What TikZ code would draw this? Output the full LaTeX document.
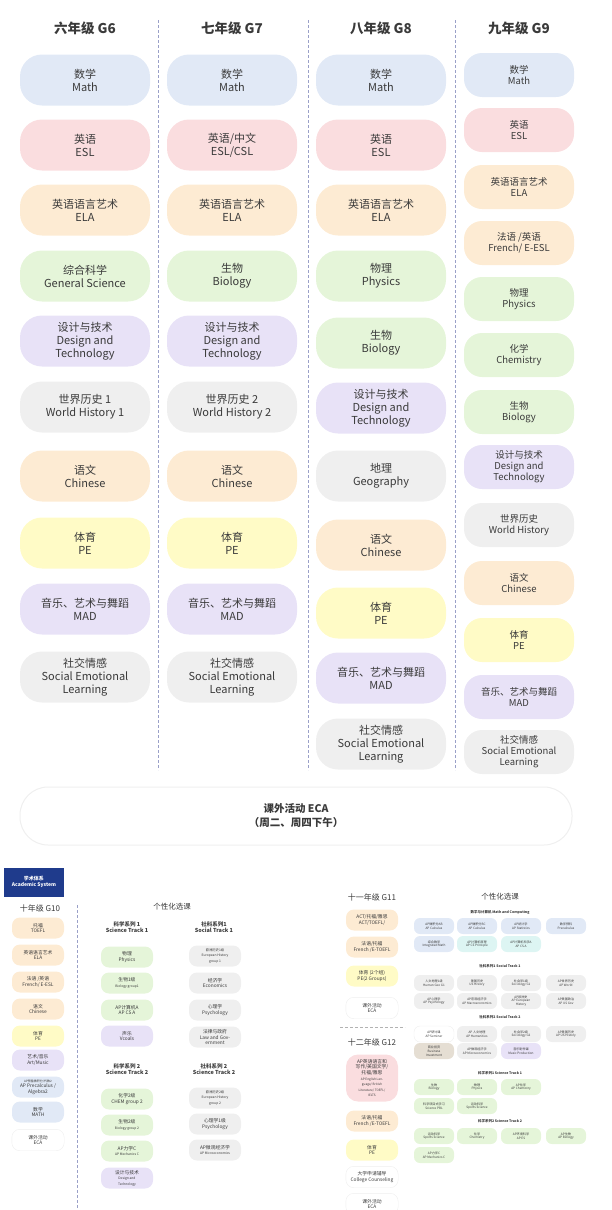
\documentclass[tikz,border=0pt]{standalone}
\usepackage{fontspec}
\setmainfont{Noto Sans CJK SC}
\definecolor{txt}{HTML}{3A3A3A}
\definecolor{cBlue}{HTML}{E1E9F6}
\definecolor{cPink}{HTML}{FADDDF}
\definecolor{cOrng}{HTML}{FDEBD3}
\definecolor{cGrn}{HTML}{E5F5D9}
\definecolor{cPurp}{HTML}{E8E2F7}
\definecolor{cGray}{HTML}{EFEFEF}
\definecolor{cYel}{HTML}{FFFBC6}
\definecolor{cTeal}{HTML}{DDF5F3}
\definecolor{cTan}{HTML}{E5DED3}
\definecolor{cNavy}{HTML}{1F3B8C}
\definecolor{cLine}{HTML}{9AA0C8}
\begin{document}
\begin{tikzpicture}[x=1pt,y=-1pt,
  top/.style={rounded corners=22pt,minimum width=130pt,minimum height=51pt,align=center,text=txt,inner sep=1pt,font=\fontsize{11}{13}\selectfont},
  topn/.style={top,minimum width=110pt,minimum height=44pt,rounded corners=18pt,font=\fontsize{9.5}{11}\selectfont},
  head/.style={text=txt,font=\fontsize{13.5}{16}\selectfont\bfseries},
  sm/.style={rounded corners=8pt,minimum width=52pt,minimum height=21pt,align=center,text=txt,inner sep=0.5pt,font=\fontsize{4.8}{5.6}\selectfont},
  xs/.style={rounded corners=6pt,minimum width=40pt,minimum height=16pt,align=center,text=txt,inner sep=0.3pt,font=\fontsize{3.1}{3.7}\selectfont},
  shead/.style={text=txt,align=center,font=\fontsize{5.5}{6.5}\selectfont\bfseries},
  ttl/.style={text=txt,font=\fontsize{3.5}{4}\selectfont\bfseries},
  sep/.style={cLine,densely dashed,line width=0.5pt}]
\useasboundingbox (0,0) rectangle (612,1210);

% grades 6 to 9
\node[head] (h6) at (85,28) {六年级 G6};
\node[head] (h7) at (232,28) {七年级 G7};
\node[head] (h8) at (381,28) {八年级 G8};
\node[head] (h9) at (519,28) {九年级 G9};

\foreach \y/\c/\t in {80/cBlue/{数学\\Math},145/cPink/{英语\\ESL},210/cOrng/{英语语言艺术\\ELA},
  276/cGrn/{综合科学\\General Science},341/cPurp/{设计与技术\\Design and\\Technology},
  407/cGray/{世界历史 1\\World History 1},476/cOrng/{语文\\Chinese},543/cYel/{体育\\PE},
  609/cPurp/{音乐、艺术与舞蹈\\MAD},677/cGray/{社交情感\\Social Emotional\\Learning}}
  \node[top,fill=\c] (g6-\y) at (85,\y) {\t};

\foreach \y/\c/\t in {80/cBlue/{数学\\Math},145/cPink/{英语/中文\\ESL/CSL},210/cOrng/{英语语言艺术\\ELA},
  276/cGrn/{生物\\Biology},341/cPurp/{设计与技术\\Design and\\Technology},
  407/cGray/{世界历史 2\\World History 2},476/cOrng/{语文\\Chinese},543/cYel/{体育\\PE},
  609/cPurp/{音乐、艺术与舞蹈\\MAD},677/cGray/{社交情感\\Social Emotional\\Learning}}
  \node[top,fill=\c] (g7-\y) at (232,\y) {\t};

\foreach \y/\c/\t in {80/cBlue/{数学\\Math},145/cPink/{英语\\ESL},210/cOrng/{英语语言艺术\\ELA},
  276/cGrn/{物理\\Physics},343/cGrn/{生物\\Biology},408/cPurp/{设计与技术\\Design and\\Technology},
  476/cGray/{地理\\Geography},545/cOrng/{语文\\Chinese},613/cYel/{体育\\PE},
  678/cPurp/{音乐、艺术与舞蹈\\MAD},744/cGray/{社交情感\\Social Emotional\\Learning}}
  \node[top,fill=\c] (g8-\y) at (381,\y) {\t};

\foreach \y/\c/\t in {75/cBlue/{数学\\Math},130/cPink/{英语\\ESL},187/cOrng/{英语语言艺术\\ELA},
  243/cOrng/{法语 /英语\\French/ E-ESL},299/cGrn/{物理\\Physics},355/cGrn/{化学\\Chemistry},
  412/cGrn/{生物\\Biology},467/cPurp/{设计与技术\\Design and\\Technology},525/cGray/{世界历史\\World History},
  583/cOrng/{语文\\Chinese},640/cYel/{体育\\PE},697/cPurp/{音乐、艺术与舞蹈\\MAD},
  752/cGray/{社交情感\\Social Emotional\\Learning}}
  \node[topn,fill=\c] (g9-\y) at (519,\y) {\t};

\coordinate (s1a) at (158,20); \coordinate (s1b) at (158,770);
\coordinate (s2a) at (308,20); \coordinate (s2b) at (308,770);
\coordinate (s3a) at (455,20); \coordinate (s3b) at (455,770);
\draw[sep] (s1a) -- (s1b); \draw[sep] (s2a) -- (s2b); \draw[sep] (s3a) -- (s3b);

\node[draw=cGray,line width=1pt,rounded corners=28pt,minimum width=552pt,minimum height=58pt,align=center,
  text=txt,font=\fontsize{10.5}{14}\selectfont\bfseries] (eca) at (296,816) {课外活动 ECA\\（周二、周四下午）};

% grade 10
\node[fill=cNavy,text=white,minimum width=60pt,minimum height=29pt,align=center,
  font=\fontsize{5}{6.5}\selectfont\bfseries] (acad) at (34,882) {学术体系\\Academic System};
\node[text=txt,font=\fontsize{8}{9}\selectfont] (h10) at (40,908) {十年级 G10};
\foreach \y/\c/\t in {928/cOrng/{托福\\TOEFL},955/cOrng/{英语语言艺术\\ELA},982/cOrng/{法语 /英语\\French/ E-ESL},
  1009/cOrng/{语文\\Chinese},1036/cYel/{体育\\PE},1060/cPurp/{艺术/音乐\\Art/Music},
  1087/cBlue/{\fontsize{3}{3.6}\selectfont AP预备微积分/代数2\\AP Precalculus /\\Algebra2},
  1112/cBlue/{数学\\MATH},1140/white/{课外活动\\ECA}}
  \node[sm,fill=\c] (g10-\y) at (38,\y) {\t};
\draw[cGray,line width=0.4pt,rounded corners=8pt] (g10-1140.south west) rectangle (g10-1140.north east);
\coordinate (s4a) at (77,905); \coordinate (s4b) at (77,1210);
\draw[sep] (s4a) -- (s4b);

\node[text=txt,font=\fontsize{7.5}{8}\selectfont] (p10) at (172,907) {个性化选课};
\node[shead] (st1) at (127,927) {科学系列 1\\Science Track 1};
\node[shead] (so1) at (214,927) {社科系列1\\Social Track 1};
\node[shead] (st2) at (127,1069) {科学系列 2\\Science Track 2};
\node[shead] (so2) at (214,1069) {社科系列 2\\Science Track 2};
\foreach \y/\c/\t in {957/cGrn/{物理\\Physics},983/cGrn/{生物1级\\{\fontsize{3.3}{4}\selectfont Biology group1}},
  1010/cGrn/{AP计算机A\\AP CS A},1036/cPurp/{声乐\\Vcoals},
  1099/cGrn/{化学2级\\CHEM group 2},1125/cGrn/{生物2级\\{\fontsize{3.3}{4}\selectfont Biology group 2}},
  1151/cGrn/{AP力学C\\{\fontsize{3.3}{4}\selectfont AP Mechanics C}},1178/cPurp/{设计与技术\\{\fontsize{3.3}{4}\selectfont Design and}\\{\fontsize{3.3}{4}\selectfont Technology}}}
  \node[sm,fill=\c] (t10a-\y) at (127,\y) {\t};
\foreach \y/\t in {956/{\fontsize{3.3}{4}\selectfont 欧洲历史1级\\{\fontsize{3.3}{4}\selectfont European History}\\{\fontsize{3.3}{4}\selectfont group 1}},
  983/{经济学\\Economics},1010/{心理学\\Psychology},1037/{法律与政府\\Law and Gov-\\ernment},
  1098/{\fontsize{3.3}{4}\selectfont 欧洲历史2级\\{\fontsize{3.3}{4}\selectfont European History}\\{\fontsize{3.3}{4}\selectfont group 2}},
  1124/{心理学1级\\Psychology},1150/{AP微观经济学\\{\fontsize{3.3}{4}\selectfont AP Microeconomics}}}
  \node[sm,fill=cGray] (t10b-\y) at (215,\y) {\t};

% grades 11 and 12
\node[text=txt,font=\fontsize{8}{9}\selectfont] (h11) at (372,897) {十一年级 G11};
\foreach \y/\c/\t in {920/cOrng/{ACT/托福/雅思\\ACT/TOEFL/},947/cOrng/{法语/托福\\French /E-TOEFL},
  976/cYel/{体育 (2个组)\\PE(2 Groups)},1008/white/{课外活动\\ECA}}
  \node[sm,fill=\c] (g11-\y) at (372,\y) {\t};
\draw[cGray,line width=0.4pt,rounded corners=8pt] (g11-1008.south west) rectangle (g11-1008.north east);
\coordinate (s5a) at (340,1027); \coordinate (s5b) at (405,1027);
\draw[sep,gray!60] (s5a) -- (s5b);
\node[text=txt,font=\fontsize{8}{9}\selectfont] (h12) at (372,1042) {十二年级 G12};
\node[sm,fill=cPink,minimum height=47pt,rounded corners=12pt] (g12-en) at (372,1078)
  {AP英语语言和\\写作/美国文学/\\托福/雅思\\{\fontsize{3.1}{3.7}\selectfont AP English Lan-}\\{\fontsize{3.1}{3.7}\selectfont guage/ British}\\{\fontsize{3.1}{3.7}\selectfont Literature/ TOEFL/}\\{\fontsize{3.1}{3.7}\selectfont IELTS}};
\foreach \y/\c/\t in {1121/cOrng/{法语/托福\\French /E-TOEFL},1150/cYel/{体育\\PE},
  1177/white/{大学申请辅导\\College Counseling},1204/white/{课外活动\\ECA}}
  \node[sm,fill=\c] (g12-\y) at (372,\y) {\t};
\draw[cGray,line width=0.4pt,rounded corners=8pt] (g12-1177.south west) rectangle (g12-1177.north east);
\draw[cGray,line width=0.4pt,rounded corners=8pt] (g12-1204.south west) rectangle (g12-1204.north east);

\node[text=txt,font=\fontsize{7.5}{8}\selectfont] (p11) at (500,897) {个性化选课};
\node[ttl] (mc) at (500,912) {数学与计算机 Math and Computing};
\node[ttl] (so11) at (500,966) {社科系列1 Social Track 1};
\node[ttl] (so12) at (500,1017) {社科系列2 Social Track 2};
\node[ttl] (sc11) at (500,1073) {科学系列1 Science Track 1};
\node[ttl] (sc12) at (500,1121) {科学系列2 Science Track 2};

\node[xs,fill=cBlue] (m1) at (434,926) {AP微积分AB\\AP Calculus};
\node[xs,fill=cBlue] (m2) at (477,926) {AP微积分BC\\AP Calculus};
\node[xs,fill=cBlue] (m3) at (521,926) {AP统计学\\AP Statistics};
\node[xs,fill=cBlue] (m4) at (566,926) {数学预科\\Precalculus};
\node[xs,fill=cBlue] (m5) at (434,944) {综合数学\\Integrated Math};
\node[xs,fill=cTeal] (m6) at (477,944) {AP计算机原理\\AP CS Principle};
\node[xs,fill=cTeal] (m7) at (521,944) {AP计算机科学A\\AP CS A};

\node[xs,fill=cGray] (a1) at (434,983) {人文地理1级\\Human Geo G1};
\node[xs,fill=cGray] (a2) at (477,983) {美国历史\\US History};
\node[xs,fill=cGray] (a3) at (521,983) {社会学1级\\Sociology G1};
\node[xs,fill=cGray] (a4) at (566,983) {AP世界历史\\AP World};
\node[xs,fill=cGray] (a5) at (434,1001) {AP心理学\\AP Psychology};
\node[xs,fill=cGray] (a6) at (477,1001) {AP宏观经济学\\AP Macroeconomics};
\node[xs,fill=cGray] (a7) at (521,1001) {AP欧洲史\\AP European\\History};
\node[xs,fill=cGray] (a8) at (566,1001) {AP美国政治\\AP US Gov};

\node[xs,fill=white,draw=cGray,line width=0.4pt] (b1) at (434,1034) {AP研讨课\\AP Seminar};
\node[xs,fill=cGray] (b2) at (477,1034) {AP 人文地理\\AP Humanities};
\node[xs,fill=cGray] (b3) at (521,1034) {社会学2级\\Sociology G2};
\node[xs,fill=cGray] (b4) at (566,1034) {AP美国历史\\AP US History};
\node[xs,fill=cTan] (b5) at (434,1051) {商业投资\\Business\\Investment};
\node[xs,fill=cGray] (b6) at (477,1051) {AP微观经济学\\AP Microeconomics};
\node[xs,fill=cPurp] (b7) at (521,1051) {音乐制作课\\Music Production};

\node[xs,fill=cGrn] (c1) at (434,1087) {生物\\Biology};
\node[xs,fill=cGrn] (c2) at (477,1087) {物理\\Physics};
\node[xs,fill=cGrn] (c3) at (521,1087) {AP化学\\AP Chemistry};
\node[xs,fill=cGrn] (c4) at (434,1106) {科学项目式学习\\Science PBL};
\node[xs,fill=cGrn] (c5) at (477,1106) {运动科学\\Sports Science};

\node[xs,fill=cGrn] (d1) at (434,1136) {运动科学\\Sports Science};
\node[xs,fill=cGrn] (d2) at (477,1136) {化学\\Chemistry};
\node[xs,fill=cGrn] (d3) at (521,1136) {AP环境科学\\AP ES};
\node[xs,fill=cGrn] (d4) at (566,1136) {AP生物\\AP Biology};
\node[xs,fill=cGrn] (d5) at (434,1155) {AP力学C\\AP Mechanics C};
\end{tikzpicture}
\end{document}
